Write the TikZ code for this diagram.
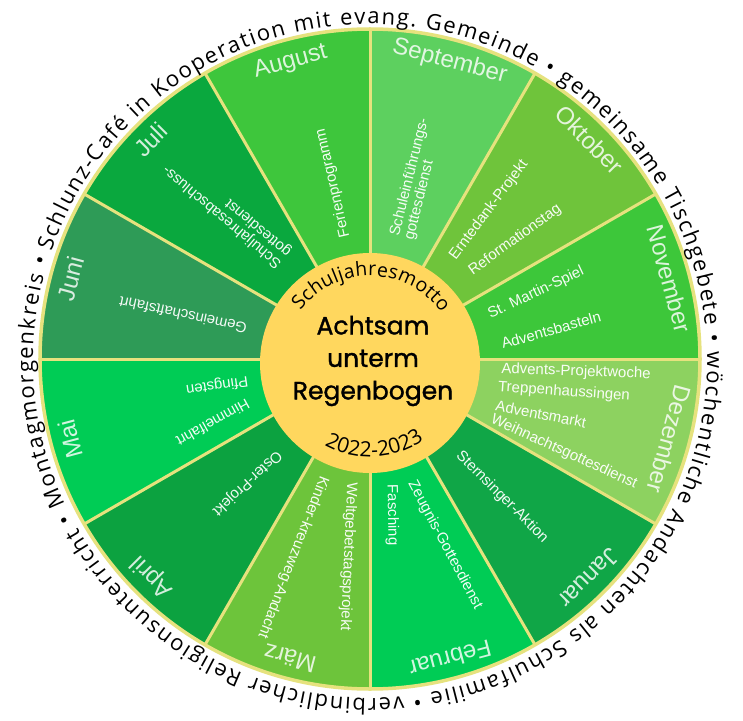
\documentclass[tikz,border=0pt]{standalone}
\usepackage{fontspec}
\setmainfont{Liberation Sans}
\newfontfamily\ringfont{Open Sans}
\newfontfamily\handfont{Poppins}[BoldFont={Poppins}, BoldFeatures={FakeBold=1.3}]
\usetikzlibrary{decorations.text}
\definecolor{cAug}{HTML}{3EC63C}
\definecolor{cSep}{HTML}{5DD05F}
\definecolor{cOkt}{HTML}{6FC43B}
\definecolor{cNov}{HTML}{3DC73A}
\definecolor{cDez}{HTML}{8DD260}
\definecolor{cJan}{HTML}{10A647}
\definecolor{cFeb}{HTML}{00CC55}
\definecolor{cMar}{HTML}{6DC43B}
\definecolor{cApr}{HTML}{0CA240}
\definecolor{cMai}{HTML}{00CC55}
\definecolor{cJun}{HTML}{2E9B57}
\definecolor{cJul}{HTML}{0AA83E}
\definecolor{cYel}{HTML}{FFD75E}
\definecolor{cLine}{HTML}{E6E27E}
\newcommand\ringfmt{\ringfont\fontsize{22}{22}\selectfont}
\newcommand\motfmt{\ringfont\fontsize{19.5}{19.5}\selectfont}
\newcommand\yearfmt{\ringfont\fontsize{21}{21}\selectfont}
\begin{document}
\begin{tikzpicture}[x=1pt,y=1pt,
  month/.style={text=white, text opacity=0.82, font=\fontsize{24}{24}\selectfont, inner sep=0pt, text height=17pt, text depth=0pt},
  act/.style={text=white, text opacity=0.95, font=\fontsize{15}{15}\selectfont, inner sep=0pt, align=left},
  sepline/.style={draw=cLine, line width=3pt},
  rimline/.style={draw=cLine, line width=3.5pt},
  handtext/.style={text=black, font=\handfont\bfseries\fontsize{25}{32.5}\selectfont, align=center, inner sep=0pt},
]
\useasboundingbox (-370,-361) rectangle (373,359);
\fill[white] (-370,-361) rectangle (373,359);
% sectors
\foreach \s/\c [evaluate=\s as \e using \s+30] in {0/cNov,30/cOkt,60/cSep,90/cAug,120/cJul,150/cJun,180/cMai,210/cApr,240/cMar,270/cFeb,300/cJan,330/cDez}
  \fill[\c] (0,0) -- (\s:330) arc[start angle=\s, end angle=\e, radius=330] -- cycle;
\foreach \a in {0,30,...,330}
  \draw[sepline] (0,0) -- (\a:330);
\draw[rimline] (0,0) circle[radius=330];
% inner circle
\fill[cYel] (0,-4) circle[radius=110];
% month labels
\foreach \ang/\name [count=\i, evaluate=\ang as \r using \ang-90] in {105/August, 75/September, 45/Oktober, 15/November, -15/Dezember, -45/Januar, -75/Februar, -105/März, -135/April, -165/Mai, 165/Juni, 135/Juli}
  \node[month, rotate=\r] (m\i) at (\ang:310) {\name};
% activities
\node[act, rotate=103] (a1) at (-37,176) {Ferienprogramm};
\node[act, rotate=140] (a2) at (-143,148) {Schuljahresabschluss-\\gottesdienst};
\node[act, rotate=168] (a3) at (-187,44) {Gemeinschaftsfahrt};
\node[act, rotate=188] (a4) at (-153,-26) {Pfingsten};
\node[act, rotate=209] (a5) at (-157,-64) {Himmelfahrt};
\node[act, rotate=223] (a6) at (-123,-124) {Oster-Projekt};
\node[act, rotate=249] (a7) at (-77,-198) {Kinder-kreuzweg-Andacht};
\node[act, rotate=267.5] (a8) at (-22,-198) {Weltgebetstagsprojekt};
\node[act, rotate=-89] (a9) at (22,-156) {Fasching};
\node[act, rotate=-62] (a10) at (75,-186) {Zeugnis-Gottesdienst};
\node[act, rotate=-45] (a11) at (132,-138) {Sternsinger-Aktion};
\node[act, rotate=-2] (a12) at (206,-13) {Advents-Projektwoche};
\node[act, rotate=-4] (a13) at (194,-33) {Treppenhaussingen};
\node[act, rotate=-11] (a14) at (171,-55) {Adventsmarkt};
\node[act, rotate=-24.6] (a15) at (194,-93) {Weihnachtsgottesdienst};
\node[act, rotate=76] (a16) at (47,180) {Schuleinführungs-\\gottesdienst};
\node[act, rotate=53] (a17) at (119,149) {Erntedank-Projekt};
\node[act, rotate=36] (a18) at (145,119) {Reformationstag};
\node[act, rotate=25] (a19) at (166,66) {St. Martin-Spiel};
\node[act, rotate=15.6] (a20) at (181,29) {Adventsbasteln};
% centre texts
\node[handtext] (motto) at (3,-2) {Achtsam\\unterm\\Regenbogen};
\path[decorate, decoration={text along path, text align=fit to path, text={|\motfmt|Schuljahresmotto}}]
  ([shift={(0,-4)}]143:87) arc[start angle=143, end angle=35, radius=87];
\path[decorate, decoration={text along path, text align=fit to path, text={|\yearfmt|2022-2023}}]
  ([shift={(0,-4)}]241:94) arc[start angle=241, end angle=305, radius=94];
% outer ring text
\path[decorate, decoration={text along path, text align=fit to path, text={|\ringfmt|Schlunz-Café in Kooperation mit evang. Gemeinde • gemeinsame Tischgebete • wöchentliche Andachten als Schulfamilie • verbindlicher Religionsunterricht • Montagmorgenkreis •}}]
  ([shift={(0,-2)}]161:337) arc[start angle=161, end angle=-197.5, radius=337];
\end{tikzpicture}
\end{document}
